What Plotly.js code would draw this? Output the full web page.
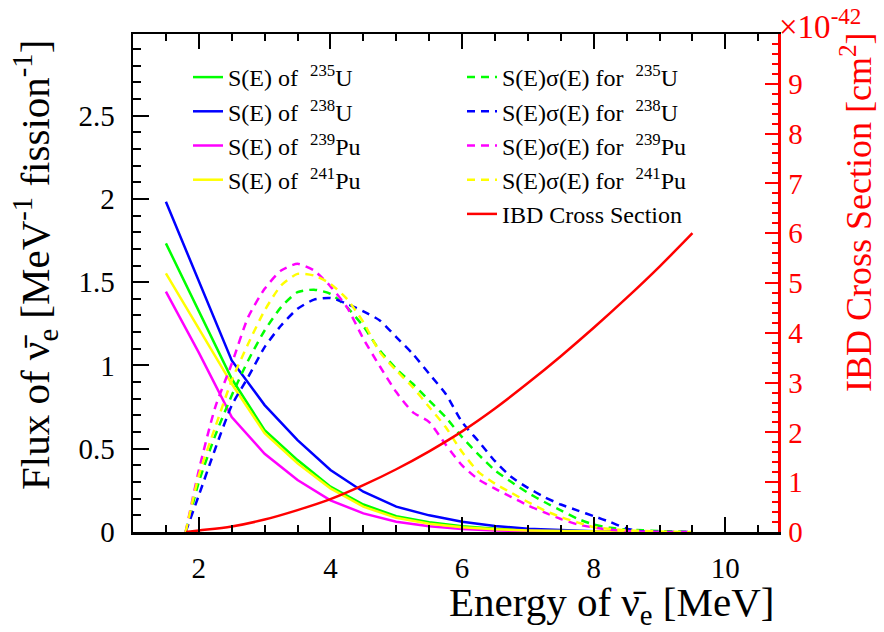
<!DOCTYPE html>
<html>
<head>
<meta charset="utf-8">
<script src="https://cdn.plot.ly/plotly-3.0.1.min.js"></script>
<style>html,body{margin:0;padding:0;background:#fff;}#chart{width:884px;height:632px;}</style>
</head>
<body>
<div id="chart"></div>
<script>
// ---- data ----
const energyS = [1.5, 2.0, 2.5, 3.0, 3.5, 4.0, 4.5, 5.0, 5.5, 6.0, 6.5, 7.0, 7.5, 8.0, 8.5];
const fluxU235  = [1.733, 1.33, 0.92, 0.612, 0.432, 0.272, 0.165, 0.095, 0.058, 0.034, 0.02, 0.011, 0.006, 0.003, 0.001];
const fluxU238  = [1.983, 1.51, 1.03, 0.762, 0.552, 0.372, 0.242, 0.152, 0.10, 0.062, 0.036, 0.02, 0.01, 0.004, 0.002];
const fluxPu239 = [1.443, 1.077, 0.69, 0.47, 0.312, 0.19, 0.112, 0.062, 0.035, 0.018, 0.009, 0.005, 0.002, 0.001, 0.0005];
const fluxPu241 = [1.553, 1.22, 0.89, 0.593, 0.412, 0.262, 0.152, 0.085, 0.05, 0.028, 0.016, 0.009, 0.005, 0.002, 0.001];

const energySS = [1.8, 2.0, 2.25, 2.5, 2.75, 3.0, 3.25, 3.5, 3.75, 4.0, 4.25, 4.5, 4.75, 5.0, 5.25, 5.5, 5.75, 6.0, 6.25, 6.5, 6.75, 7.0, 7.25, 7.5, 7.75, 8.0, 8.25, 8.5, 8.75, 9.0, 9.25, 9.5];
const ssU235  = [0, 0.30, 0.58, 0.82, 1.03, 1.21, 1.35, 1.44, 1.455, 1.43, 1.35, 1.235, 1.09, 0.98, 0.89, 0.79, 0.69, 0.57, 0.465, 0.37, 0.30, 0.235, 0.18, 0.13, 0.08, 0.045, 0.025, 0.015, 0.01, 0.006, 0.003, 0.001];
const ssU238  = [0, 0.22, 0.50, 0.76, 0.93, 1.11, 1.24, 1.34, 1.395, 1.405, 1.37, 1.325, 1.27, 1.17, 1.07, 0.95, 0.83, 0.66, 0.545, 0.425, 0.33, 0.265, 0.21, 0.165, 0.13, 0.095, 0.06, 0.02, 0.003, 0, 0, 0];
const ssPu239 = [0, 0.37, 0.75, 1.01, 1.29, 1.46, 1.57, 1.61, 1.57, 1.475, 1.35, 1.16, 0.995, 0.84, 0.72, 0.66, 0.525, 0.40, 0.315, 0.26, 0.21, 0.16, 0.118, 0.078, 0.046, 0.027, 0.014, 0.006, 0.002, 0, 0, 0];
const ssPu241 = [0, 0.34, 0.63, 0.91, 1.13, 1.33, 1.48, 1.55, 1.54, 1.49, 1.40, 1.26, 1.08, 0.97, 0.87, 0.75, 0.63, 0.48, 0.36, 0.29, 0.235, 0.18, 0.13, 0.09, 0.058, 0.03, 0.018, 0.01, 0.006, 0.003, 0.001, 0];

const energyIBD = [1.806, 2.0, 2.5, 3.0, 3.5, 4.0, 4.5, 5.0, 5.5, 6.0, 6.5, 7.0, 7.5, 8.0, 8.5, 9.0, 9.5];
const ibdSigma  = [0, 0.03, 0.11, 0.25, 0.44, 0.66, 0.94, 1.26, 1.62, 2.02, 2.48, 2.99, 3.53, 4.10, 4.70, 5.33, 6.00]; // x 1e-42 cm^2

const isotopes = ['<sup>235</sup>U', '<sup>238</sup>U', '<sup>239</sup>Pu', '<sup>241</sup>Pu'];
const colors = ['#00ff00', '#0000ff', '#ff00ff', '#ffff00'];

// ---- build ----
const FONT = 'Liberation Serif';
const fluxes = [fluxU235, fluxU238, fluxPu239, fluxPu241];
const prods = [ssU235, ssU238, ssPu239, ssPu241];
const traces = [];
for (let i = 0; i < 4; i++) {
  traces.push({
    x: energyS, y: fluxes[i], type: 'scatter', mode: 'lines',
    name: 'S(E) of  ' + isotopes[i],
    line: {color: colors[i], width: 2.5},
    legend: 'legend'
  });
}
for (let i = 0; i < 4; i++) {
  traces.push({
    x: energySS, y: prods[i], type: 'scatter', mode: 'lines',
    name: 'S(E)σ(E) for  ' + isotopes[i],
    line: {color: colors[i], width: 2.5, dash: '8px,6px', shape: 'spline', smoothing: 0.6},
    legend: 'legend2'
  });
}
traces.push({
  x: energyIBD, y: ibdSigma, type: 'scatter', mode: 'lines',
  name: 'IBD Cross Section', yaxis: 'y2',
  line: {color: '#ff0000', width: 2.5, shape: 'spline', smoothing: 1},
  legend: 'legend2'
});

const W = 884, H = 632, L = 133, R = 778, T = 34, B = 532;
const pw = R - L, ph = B - T;
const px = v => (v - L) / pw;
const py = v => (B - v) / ph;

const layout = {
  width: W, height: H,
  margin: {l: L, r: W - R, t: T, b: H - B, pad: 0},
  paper_bgcolor: '#fff', plot_bgcolor: '#fff',
  font: {family: FONT, color: '#000', size: 24},
  showlegend: true,
  xaxis: {
    range: [1, 10.8], tick0: 0, dtick: 2,
    ticks: 'inside', ticklen: 15, tickwidth: 2, tickcolor: '#000',
    showline: true, linecolor: '#000', linewidth: 2.5, mirror: 'ticks',
    showgrid: false, zeroline: false,
    tickfont: {family: FONT, size: 29, color: '#000'},
    ticklabelstandoff: 9,
    minor: {dtick: 0.5, tick0: 0, ticks: 'inside', ticklen: 7, tickwidth: 2, tickcolor: '#000', showgrid: false}
  },
  yaxis: {
    range: [0, 2.99], tick0: 0, dtick: 0.5,
    ticks: 'inside', ticklen: 16, tickwidth: 2, tickcolor: '#000',
    showline: true, linecolor: '#000', linewidth: 2.5, mirror: false,
    showgrid: false, zeroline: false,
    tickfont: {family: FONT, size: 29, color: '#000'},
    ticklabelstandoff: 10,
    minor: {dtick: 0.1, tick0: 0, ticks: 'inside', ticklen: 8, tickwidth: 2, tickcolor: '#000', showgrid: false}
  },
  yaxis2: {
    overlaying: 'y', side: 'right', anchor: 'x',
    range: [0, 9.999], tick0: 0, dtick: 1,
    ticks: 'inside', ticklen: 13, tickwidth: 2, tickcolor: '#ff0000',
    showline: true, linecolor: '#ff0000', linewidth: 2.5,
    showgrid: false, zeroline: false,
    tickfont: {family: FONT, size: 29, color: '#ff0000'},
    ticklabelstandoff: 2,
    minor: {dtick: 0.2, tick0: 0, ticks: 'inside', ticklen: 6, tickwidth: 2, tickcolor: '#ff0000', showgrid: false}
  },
  legend: {
    x: px(188), y: py(55), xanchor: 'left', yanchor: 'top',
    bgcolor: 'rgba(0,0,0,0)', borderwidth: 0,
    font: {family: FONT, size: 24, color: '#000'},
    tracegroupgap: 0
  },
  legend2: {
    x: px(462), y: py(55), xanchor: 'left', yanchor: 'top',
    bgcolor: 'rgba(0,0,0,0)', borderwidth: 0,
    font: {family: FONT, size: 24, color: '#000'},
    tracegroupgap: 0
  },
  annotations: [
    {text: 'Energy of ν̄<sub>e</sub> [MeV]', xref: 'paper', yref: 'paper',
     x: px(776), y: py(605), xanchor: 'right', yanchor: 'middle', showarrow: false,
     font: {family: FONT, size: 41, color: '#000'}},
    {text: 'Flux of ν̄<sub>e</sub> [MeV<sup>-1</sup> fission<sup>-1</sup>]', xref: 'paper', yref: 'paper',
     x: px(35), y: py(265), xanchor: 'center', yanchor: 'middle', textangle: -90, showarrow: false,
     font: {family: FONT, size: 41, color: '#000'}},
    {text: 'IBD Cross Section [cm<sup>2</sup>]', xref: 'paper', yref: 'paper',
     x: px(856), y: py(212), xanchor: 'center', yanchor: 'middle', textangle: -90, showarrow: false,
     font: {family: FONT, size: 36, color: '#ff0000'}},
    {text: '×10<sup>-42</sup>', xref: 'paper', yref: 'paper',
     x: px(777), y: py(1), xanchor: 'left', yanchor: 'top', showarrow: false,
     font: {family: FONT, size: 33, color: '#ff0000'}}
  ]
};

Plotly.newPlot('chart', traces, layout, {displayModeBar: false, staticPlot: true});
</script>
</body>
</html>
